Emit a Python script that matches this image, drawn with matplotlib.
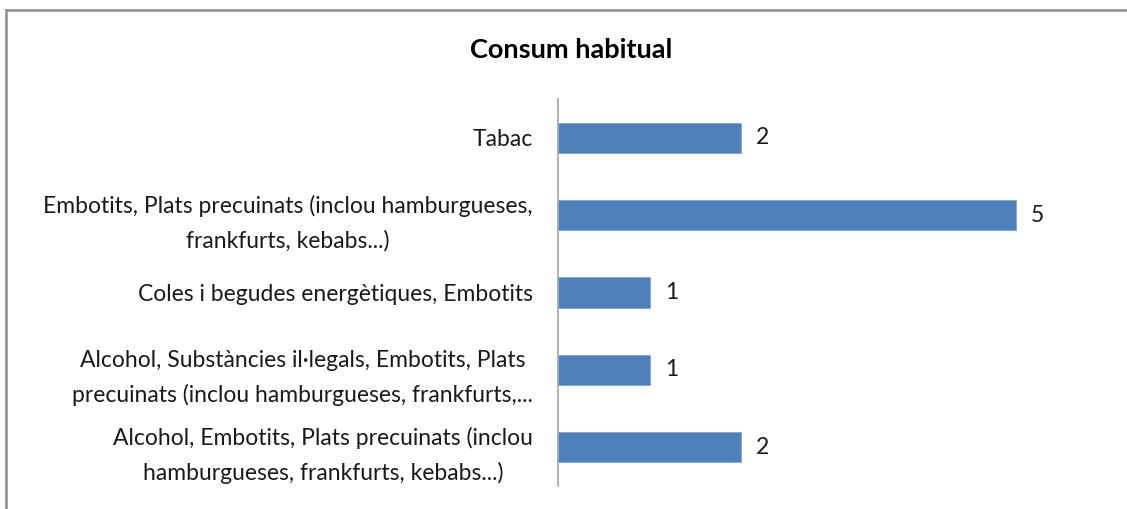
import matplotlib.pyplot as plt
import matplotlib.lines as mlines

categories = [
    "Tabac",
    "Embotits, Plats precuinats (inclou hamburgueses,\nfrankfurts, kebabs...)",
    "Coles i begudes energètiques, Embotits",
    "Alcohol, Substàncies il·legals, Embotits, Plats\nprecuinats (inclou hamburgueses, frankfurts,...",
    "Alcohol, Embotits, Plats precuinats (inclou\nhamburgueses, frankfurts, kebabs...)",
]
values = [2, 5, 1, 1, 2]
title = "Consum habitual"

plt.rcParams['font.family'] = ['Lato', 'DejaVu Sans']

fig = plt.figure(figsize=(11.27, 5.09), dpi=100)
ax = fig.add_axes([558/1127, 23/509, (1100-558)/1127, (486-99)/509])

ypos = list(range(len(categories)))
ax.barh(ypos, values, height=0.39, color='#4f81bd', edgecolor='#7fa3d0', linewidth=0.6)
ax.set_ylim(len(categories) - 0.5, -0.5)
ax.set_xlim(0, (1100 - 558) / 91.5)

ax.set_yticks(ypos)
ax.set_yticklabels(categories, fontsize=16.5, color='#1a1a1a',
                   multialignment='center', linespacing=1.72)
ax.tick_params(axis='y', length=0, pad=18)
ax.set_xticks([])

for s in ['top', 'right', 'bottom']:
    ax.spines[s].set_visible(False)
ax.spines['left'].set_color('#a6a6a6')
ax.spines['left'].set_linewidth(1.2)

for y, v in zip(ypos, values):
    ax.annotate(str(v), (v, y), xytext=(11, 0), textcoords='offset points',
                va='center', ha='left', fontsize=16.5, color='#1a1a1a')

fig.text(571/1127, 1 - 50/509, title, ha='center', va='center',
         fontsize=19.5, fontweight='bold', color='black')

# outer chart frame (only top and left edges visible in the crop)
fig.add_artist(mlines.Line2D([6/1127, 1], [1 - 10/509, 1 - 10/509],
                             transform=fig.transFigure, color='#8c8c8c', lw=1.8))
fig.add_artist(mlines.Line2D([6/1127, 6/1127], [0, 1 - 10/509],
                             transform=fig.transFigure, color='#8c8c8c', lw=1.8))

fig.savefig('out.png', dpi=100)
